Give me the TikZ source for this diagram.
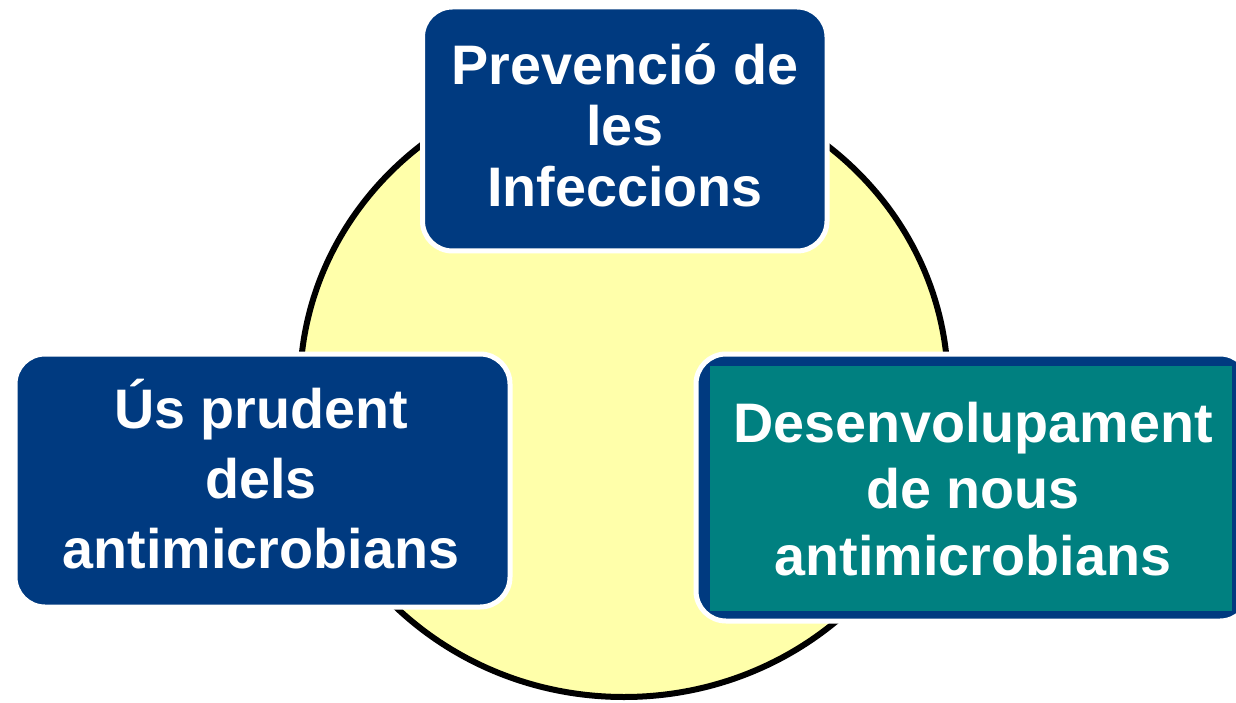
\documentclass[tikz,border=0pt]{standalone}
\usepackage{fontspec}
\setmainfont{Liberation Sans}
\definecolor{dblue}{HTML}{003A80}
\definecolor{teal2}{HTML}{008080}
\definecolor{pale}{HTML}{FFFFAA}
\begin{document}
\begin{tikzpicture}[x=1pt,y=-1pt,
  box/.style={draw=white,line width=5pt,fill=dblue,rounded corners=30pt},
  lbl/.style={text=white,align=center,anchor=base,inner sep=0pt}]
\useasboundingbox (0,0) rectangle (1236,703);
\fill[white] (0,0) rectangle (1236,703);
\draw[line width=6pt,fill=pale] (624,387) ellipse [x radius=324, y radius=310];
\draw[box] (422.5,7) rectangle (827,251);
\draw[box] (15,354) rectangle (510,607);
\draw[box] (696,354) rectangle (1250,621);
\fill[teal2] (710,366) rectangle (1232,611);
% anchor=base is the baseline of the last line
\node[lbl,font=\fontsize{55.7}{61}\selectfont\bfseries] (top) at (625,207) {Prevenció de\\les\\Infeccions};
\node[lbl,font=\fontsize{55.7}{70}\selectfont\bfseries] (left) at (261,568) {Ús prudent\\dels\\antimicrobians};
\node[lbl,font=\fontsize{55.7}{66.5}\selectfont\bfseries] (right) at (973,575) {Desenvolupament\\de nous\\antimicrobians};
\end{tikzpicture}
\end{document}
